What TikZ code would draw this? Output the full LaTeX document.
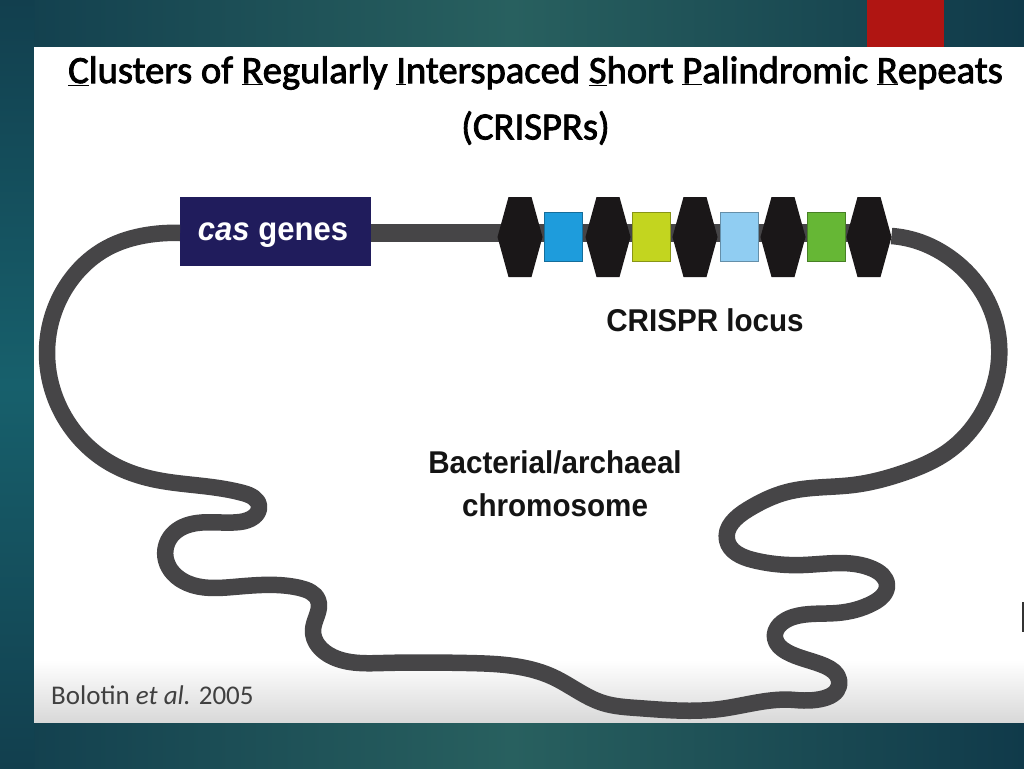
\documentclass[tikz,border=0pt]{standalone}
\usepackage{fontspec}
\usetikzlibrary{calc,hobby}
\setmainfont{Liberation Sans}
\newfontfamily\ttlfont[FakeBold=2.2]{Carlito}
\newfontfamily\notefont{Carlito}
\newfontfamily\lblfont[FakeStretch=0.94]{Liberation Sans}
\definecolor{chromo}{HTML}{464547}
\definecolor{casblue}{HTML}{201C5C}
\definecolor{hexblack}{HTML}{1A1718}
\definecolor{bgdark}{HTML}{103A4A}
\definecolor{bgmid}{HTML}{28605F}
\definecolor{bgleft}{HTML}{123F4E}
\definecolor{bgteal}{HTML}{17606C}
\definecolor{redtab}{HTML}{B01512}
\tikzset{
  hexbox/.style={minimum width=45pt,minimum height=80pt,inner sep=0pt,outer sep=0pt},
  spacer/.style={minimum width=38pt,minimum height=49pt,inner sep=0pt,outer sep=0pt,draw=#1!70!black,line width=1pt,fill=#1},
  casbox/.style={fill=casblue,minimum width=191pt,minimum height=69pt,inner sep=0pt,outer sep=0pt},
  strand/.style={draw=chromo,line width=16.5pt,line cap=butt,line join=round},
  title/.style={font=\ttlfont\fontsize{38.6}{42}\selectfont,text=black,inner sep=0pt},
  lbl/.style={font=\lblfont\bfseries\fontsize{31.5}{43}\selectfont,text=black!92,inner sep=0pt,align=center},
}
\definecolor{sp1}{HTML}{1E9CDC}
\definecolor{sp2}{HTML}{C3D51F}
\definecolor{sp3}{HTML}{90CDF2}
\definecolor{sp4}{HTML}{66B735}
\begin{document}
\begin{tikzpicture}[x=1pt,y=-1pt,use Hobby shortcut]
\useasboundingbox (0,0) rectangle (1024,768);
% slide background
\shade[left color=bgleft,right color=bgdark,middle color=bgmid] (0,0) rectangle (1024,768);
\shade[top color=bgleft,bottom color=bgleft,middle color=bgteal] (0,0) rectangle (34,768);
\fill[redtab] (867,0) rectangle (944,47);
% white panel
\fill[white] (34,47) rectangle (1024,660);
\shade[top color=white,bottom color=black!15] (34,660) rectangle (1024,722);
\fill[black!80] (1022,602) rectangle (1024,632);
% nodes
\node[casbox] (cas) at (275.5,231.5) {};
\foreach \n/\x in {h1/520,h2/608,h3/695,h4/783,h5/869}
  \node[hexbox] (\n) at (\x,237) {};
\coordinate (leftend) at ([yshift=-1.5pt]cas.west);
\coordinate (rightend) at ([yshift=1pt]h5.east);
% chromosome strand
\draw[strand] (leftend) .. (147,235) .. (107,248) .. (73,277) .. (47,353) .. (73,430) .. (110,463) .. (157,480) .. (203,486) .. (243,493)
 .. (259,506) .. (240,522) .. (197,523) .. (172,535) .. (166,560) .. (187,583) .. (233,587)
 .. (300,588) .. (318,600) .. (313,630) .. (333,657) .. (383,663) .. (467,663) .. (520,667) .. (553,677)
 .. (603,703) .. (637,708) .. (720,709) .. (795,700) .. (839,680) .. (825,666) .. (787,652) .. (775,638)
 .. (793,617) .. (837,613) .. (873,603) .. (887,585) .. (873,569) .. (803,565) .. (753,560) .. (727,540)
 .. (747,510) .. (787,492) .. (853,485) .. (903,473) .. (950,450) .. (980,417) .. (999,360) .. (983,293) .. (953,260) .. (920,242) .. (rightend);
\draw[strand,line width=18pt] ([yshift=-1.5pt]cas.east) -- ([yshift=4pt]h5.center);
% repeats and spacers
\foreach \n in {h1,h2,h3,h4,h5}
  \fill[hexblack] (\n.west) -- ([xshift=11pt]\n.north west) -- ([xshift=-11pt]\n.north east) -- (\n.east) -- ([xshift=-11pt]\n.south east) -- ([xshift=11pt]\n.south west) -- cycle;
\node[spacer=sp1] (s1) at (563,237) {};
\node[spacer=sp2] (s2) at (651,237) {};
\node[spacer=sp3] (s3) at (739,237) {};
\node[spacer=sp4] (s4) at (826,237) {};
\node[font=\lblfont\bfseries\fontsize{33}{36}\selectfont,text=white,inner sep=0pt] (caslbl) at (273,235) {\textit{cas} genes};
% texts
\node[title] (t1) at (535.5,73) {\underline{C}lusters of \underline{R}egularly \underline{I}nterspaced \underline{S}hort \underline{P}alindromic \underline{R}epeats};
\node[title] (t2) at (535.5,128) {(CRISPRs)};
\node[lbl] (locus) at (705,320) {CRISPR locus};
\node[lbl] (bact) at (555,484) {Bacterial/archaeal\\chromosome};
\node[font=\notefont\fontsize{27}{30}\selectfont,text=black!75,anchor=west,inner sep=0pt] (cite) at (51,695) {Bolotin \textit{et al.} 2005};
\end{tikzpicture}
\end{document}
